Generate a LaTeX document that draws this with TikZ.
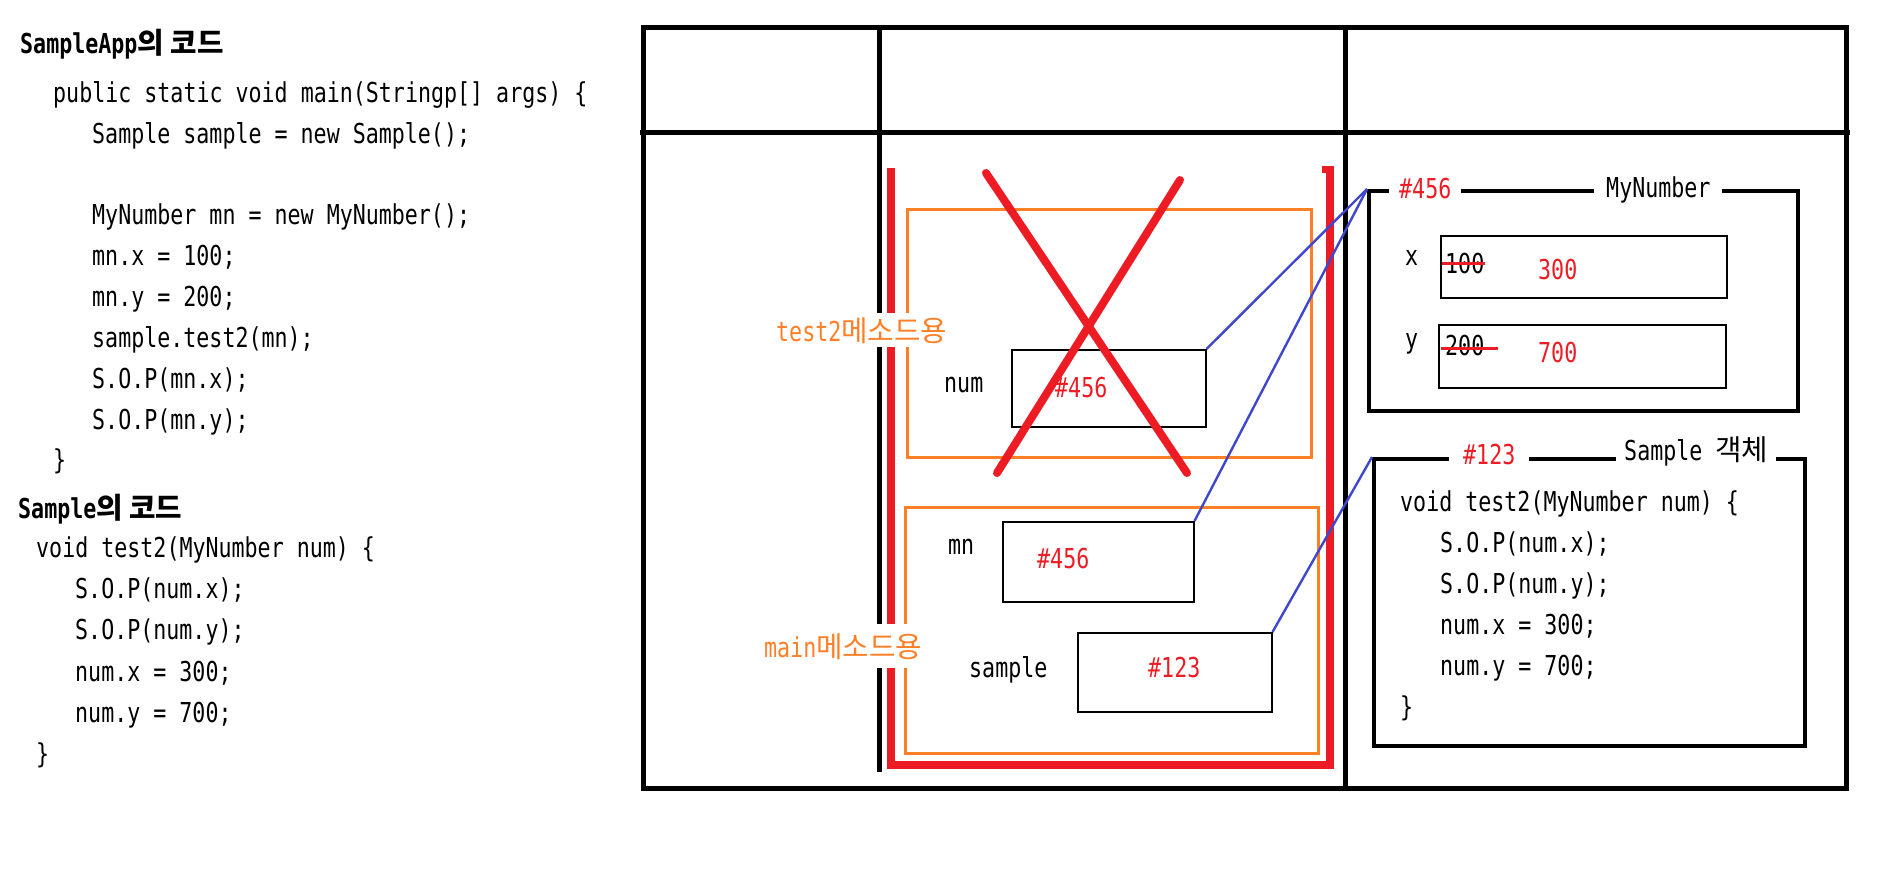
\documentclass[tikz,border=0pt]{standalone}
\usepackage{fontspec}
\setmonofont{DejaVu Sans Mono}[FakeStretch=0.79]
\newfontfamily\kr{Noto Sans CJK KR}[Scale=1.05]
\definecolor{pred}{HTML}{ED1C24}
\definecolor{porange}{HTML}{FF7F27}
\definecolor{pblue}{HTML}{3F48CC}
\newcommand\codefont{\ttfamily\fontsize{27.4}{30}\selectfont}
\begin{document}
\begin{tikzpicture}[x=1pt,y=-1pt,
  code/.style={font=\codefont, inner sep=0pt, anchor=base west},
  titletext/.style={code, font=\codefont\bfseries},
  redtext/.style={code, text=pred},
  frame/.style={line width=5pt, black},
  redwall/.style={line width=8pt, pred},
  orangebox/.style={draw=porange, line width=3pt, inner sep=0pt, anchor=north west},
  thinbox/.style={draw=black, line width=1.5pt, inner sep=0pt, anchor=north west},
  objbox/.style={draw=black, line width=4pt, inner sep=0pt, anchor=north west},
  link/.style={pblue, line width=2.4pt},
  cross/.style={pred, line width=8pt, line cap=round},
  strike/.style={pred, line width=3pt},
  stacklabel/.style={code, text=porange, fill=white, inner xsep=0pt}]
\useasboundingbox (0,0) rectangle (1898,868);

% ---------- left: source code ----------
\node[titletext] (t1) at (20,53) {SampleApp{\kr 의 코드}};
\node[code] (l1) at (53,102) {public static void main(Stringp[] args) \{};
\node[code] (l2) at (92,143) {Sample sample = new Sample();};
\node[code] (l3) at (92,224) {MyNumber mn = new MyNumber();};
\node[code] (l4) at (92,265) {mn.x = 100;};
\node[code] (l5) at (92,306) {mn.y = 200;};
\node[code] (l6) at (92,347) {sample.test2(mn);};
\node[code] (l7) at (92,388) {S.O.P(mn.x);};
\node[code] (l8) at (92,429) {S.O.P(mn.y);};
\node[code] (l9) at (53,469) {\}};
\node[titletext] (t2) at (18,518) {Sample{\kr 의 코드}};
\node[code] (m1) at (36,557) {void test2(MyNumber num) \{};
\node[code] (m2) at (75,598) {S.O.P(num.x);};
\node[code] (m3) at (75,639) {S.O.P(num.y);};
\node[code] (m4) at (75,681) {num.x = 300;};
\node[code] (m5) at (75,722) {num.y = 700;};
\node[code] (m6) at (36,763) {\}};

% ---------- memory frame ----------
\draw[frame] (643,27) rectangle (1846,788);
\draw[frame] (640,132) -- (1850,132);
\draw[frame] (879,27) -- (879,772);
\draw[frame] (1345,27) -- (1345,788);

% stack (red U)
\draw[redwall, line join=miter] (891,168) -- (891,765) -- (1330,765) -- (1330,168);
\fill[pred] (1322,166) rectangle (1334,173);

% stack frames
\node[orangebox, minimum width=404pt, minimum height=248pt] (test2box) at (906,208) {};
\node[orangebox, minimum width=413pt, minimum height=246pt] (mainbox) at (904,506) {};

% variables
\node[thinbox, minimum width=194pt, minimum height=77pt] (numbox) at (1011,349) {};
\node[code] (numlbl) at (944,392) {num};
\node[redtext] (numval) at (1055,397) {\#456};

\node[thinbox, minimum width=191pt, minimum height=80pt] (mnbox) at (1002,521) {};
\node[code] (mnlbl) at (948,554) {mn};
\node[redtext] (mnval) at (1037,568) {\#456};

\node[thinbox, minimum width=194pt, minimum height=79pt] (samplebox) at (1077,632) {};
\node[code] (samplelbl) at (969,677) {sample};
\node[redtext] (sampleval) at (1148,677) {\#123};

% cross over test2 frame
\draw[cross] (986,173) -- (1187,473);
\draw[cross] (1180,180) -- (997,473);

% ---------- heap ----------
\node[objbox, minimum width=429pt, minimum height=220pt] (mynum) at (1367,189) {};
\node[redtext, fill=white, inner xsep=10pt, inner ysep=2pt] (mynumaddr) at (1389,198) {\#456};
\node[code, fill=white, inner xsep=12pt, inner ysep=2pt] (mynumname) at (1594,197) {MyNumber};

\node[code] (xlbl) at (1405,265) {x};
\node[thinbox, minimum width=286pt, minimum height=62pt] (xbox) at (1440,235) {};
\node[code] (xold) at (1445,273) {100};
\draw[strike] (1442,263) -- (1485,263);
\node[redtext] (xnew) at (1538,279) {300};

\node[code] (ylbl) at (1405,348) {y};
\node[thinbox, minimum width=287pt, minimum height=63pt] (ybox) at (1438,324) {};
\node[code] (yold) at (1445,355) {200};
\draw[strike] (1441,348) -- (1498,348);
\node[redtext] (ynew) at (1538,362) {700};

\node[objbox, minimum width=431pt, minimum height=287pt] (sampleobj) at (1372,457) {};
\node[redtext, fill=white, inner xsep=14pt, inner ysep=2pt] (sampleaddr) at (1449,464) {\#123};
\node[code, fill=white, inner xsep=8pt, inner ysep=2pt] (samplename) at (1616,460) {Sample {\kr 객체}};
\node[code] (s1) at (1400,511) {void test2(MyNumber num) \{};
\node[code] (s2) at (1440,552) {S.O.P(num.x);};
\node[code] (s3) at (1440,593) {S.O.P(num.y);};
\node[code] (s4) at (1440,634) {num.x = 300;};
\node[code] (s5) at (1440,675) {num.y = 700;};
\node[code] (s6) at (1400,716) {\}};

% references
\draw[link] (numbox.north east) -- (mynum.north west);
\draw[link] (mnbox.north east) -- (mynum.north west);
\draw[link] (samplebox.north east) -- (sampleobj.north west);

% stack frame labels (cover the walls)
\node[stacklabel, inner ysep=4pt] (test2lbl) at (776,341) {test2{\kr 메소드용}};
\node[stacklabel, inner ysep=9pt] (mainlbl) at (764,657) {main{\kr 메소드용}};
\end{tikzpicture}
\end{document}
